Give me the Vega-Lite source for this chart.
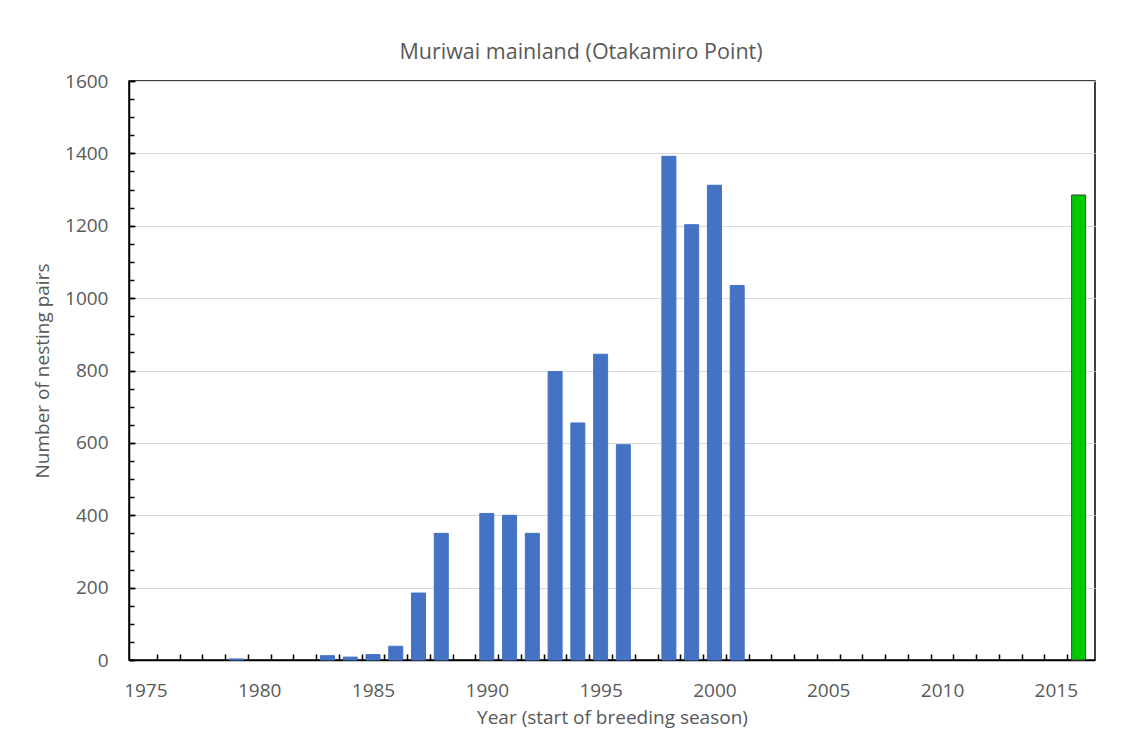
{
  "$schema": "https://vega.github.io/schema/vega-lite/v6.json",
  "width": 966,
  "height": 579,
  "autosize": {"type": "none"},
  "padding": {"left": 129, "top": 81, "right": 39, "bottom": 84},
  "background": "white",
  "config": {
    "font": "Open Sans",
    "view": {"stroke": "#000000", "strokeWidth": 1.5},
    "axis": {"labelColor": "#595959", "titleColor": "#595959", "labelFontSize": 19, "titleFontSize": 19, "titleFontWeight": "normal", "labelFont": "Open Sans", "titleFont": "Open Sans"}
  },
  "title": {"text": "Muriwai mainland (Otakamiro Point)", "fontSize": 21.5, "fontWeight": "normal", "color": "#595959", "font": "Open Sans", "dx": -31, "offset": 9},
  "data": {"values": [
    {"year": 1979, "pairs": 3, "group": "historic"},
    {"year": 1983, "pairs": 12, "group": "historic"},
    {"year": 1984, "pairs": 8, "group": "historic"},
    {"year": 1985, "pairs": 15, "group": "historic"},
    {"year": 1986, "pairs": 38, "group": "historic"},
    {"year": 1987, "pairs": 185, "group": "historic"},
    {"year": 1988, "pairs": 350, "group": "historic"},
    {"year": 1990, "pairs": 405, "group": "historic"},
    {"year": 1991, "pairs": 400, "group": "historic"},
    {"year": 1992, "pairs": 350, "group": "historic"},
    {"year": 1993, "pairs": 797, "group": "historic"},
    {"year": 1994, "pairs": 655, "group": "historic"},
    {"year": 1995, "pairs": 845, "group": "historic"},
    {"year": 1996, "pairs": 595, "group": "historic"},
    {"year": 1998, "pairs": 1392, "group": "historic"},
    {"year": 1999, "pairs": 1203, "group": "historic"},
    {"year": 2000, "pairs": 1312, "group": "historic"},
    {"year": 2001, "pairs": 1035, "group": "historic"},
    {"year": 2016, "pairs": 1285, "group": "recent"}
  ]},
  "layer": [
    {
      "mark": {"type": "bar", "size": 14, "strokeWidth": 1},
      "encoding": {
        "x": {"field": "year", "type": "quantitative",
          "scale": {"domain": [1974.5, 2016.5], "nice": false, "zero": false},
          "axis": {"orient": "bottom", "values": [1975.5,1976.5,1977.5,1978.5,1979.5,1980.5,1981.5,1982.5,1983.5,1984.5,1985.5,1986.5,1987.5,1988.5,1989.5,1990.5,1991.5,1992.5,1993.5,1994.5,1995.5,1996.5,1997.5,1998.5,1999.5,2000.5,2001.5,2002.5,2003.5,2004.5,2005.5,2006.5,2007.5,2008.5,2009.5,2010.5,2011.5,2012.5,2013.5,2014.5,2015.5],
            "labels": false, "title": null, "grid": false, "tickSize": -6, "tickColor": "#000000", "tickWidth": 1.5, "domainColor": "#000000", "domainWidth": 1.5}},
        "y": {"field": "pairs", "type": "quantitative",
          "scale": {"domain": [0, 1600], "nice": false},
          "axis": {"orient": "left", "values": [0,200,400,600,800,1000,1200,1400,1600], "format": "d", "title": "Number of nesting pairs", "titlePadding": 12,
            "grid": true, "gridColor": "#d9d9d9", "gridWidth": 1, "tickSize": -6, "tickColor": "#000000", "tickWidth": 1.5, "domainColor": "#000000", "domainWidth": 1.5, "labelPadding": 27}},
        "color": {"field": "group", "type": "nominal", "scale": {"domain": ["historic", "recent"], "range": ["#4472C4", "#00C800"]}, "legend": null},
        "stroke": {"field": "group", "type": "nominal", "scale": {"domain": ["historic", "recent"], "range": ["#4472C4", "#404040"]}, "legend": null}
      }
    },
    {
      "mark": {"type": "bar", "size": 14, "opacity": 0},
      "encoding": {
        "x": {"field": "year", "type": "quantitative",
          "axis": {"orient": "bottom", "values": [1975,1980,1985,1990,1995,2000,2005,2010,2015], "format": "d", "ticks": false, "domain": false, "grid": false, "labelPadding": 21, "title": "Year (start of breeding season)", "titlePadding": 8}},
        "y": {"field": "pairs", "type": "quantitative",
          "axis": {"orient": "left", "values": [0,50,100,150,200,250,300,350,400,450,500,550,600,650,700,750,800,850,900,950,1000,1050,1100,1150,1200,1250,1300,1350,1400,1450,1500,1550,1600], "labels": false, "title": null, "grid": false, "domain": false, "tickSize": -5, "tickColor": "#000000", "tickWidth": 1.5}}
      }
    }
  ],
  "resolve": {"axis": {"x": "independent", "y": "independent"}}
}
